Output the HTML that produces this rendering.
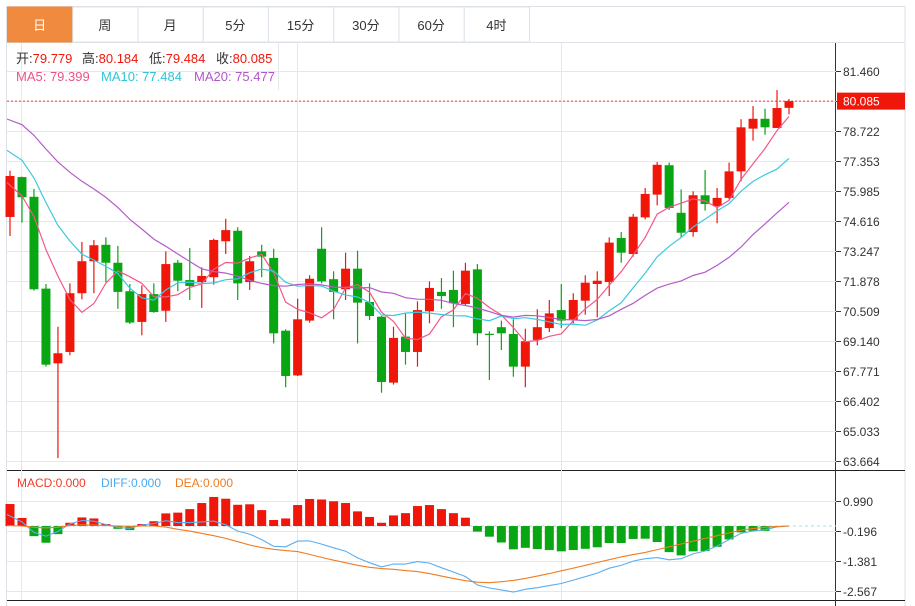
<!DOCTYPE html>
<html><head><meta charset="utf-8">
<style>
html,body{margin:0;padding:0;background:#fff;width:915px;height:606px;overflow:hidden;font-family:"Liberation Sans","Noto Sans CJK SC",sans-serif;}
svg{position:absolute;left:0;top:0;}
</style></head>
<body>
<svg id="chart" width="915" height="606" xmlns="http://www.w3.org/2000/svg" font-family="Liberation Sans, Noto Sans CJK SC, sans-serif"></svg>
<script>
const tabs = ["日","周","月","5分","15分","30分","60分","4时"];
const opens  = [74.80,76.62,75.72,71.53,68.12,68.64,71.32,72.78,73.53,72.71,71.41,70.01,71.28,70.52,72.71,71.92,71.83,72.05,73.69,74.17,71.83,73.23,72.93,69.61,67.57,70.07,73.35,71.96,71.50,72.44,70.92,70.25,67.24,69.34,68.64,70.50,71.38,71.47,70.83,72.41,69.47,69.77,69.46,67.97,69.19,69.73,70.55,70.10,70.98,71.74,71.83,73.84,73.11,74.78,75.82,77.16,74.99,74.11,75.79,75.30,75.67,76.88,78.83,79.28,78.86,79.779];
const highs  = [76.91,76.64,76.08,71.74,69.79,71.77,73.66,73.75,73.87,73.48,71.74,71.68,71.77,73.23,72.84,73.38,72.50,73.81,74.72,74.33,73.02,73.53,73.35,69.67,71.07,72.14,74.33,72.32,73.17,73.26,71.77,70.28,69.79,70.43,70.95,71.86,72.01,72.35,72.71,72.65,69.58,70.07,70.13,69.70,70.59,71.01,71.74,71.32,72.14,72.32,73.87,74.11,74.94,76.12,77.31,77.28,76.06,75.97,76.94,76.12,77.28,79.26,79.86,79.74,80.59,80.184];
const lows   = [73.93,74.54,71.44,67.97,63.80,68.49,71.04,71.32,71.83,70.61,69.92,69.40,70.43,70.01,71.41,71.01,70.65,71.71,73.11,71.01,71.47,72.05,69.03,67.03,67.54,69.98,71.77,70.13,71.01,69.03,70.10,66.78,67.15,68.06,67.97,69.95,70.61,69.77,70.77,68.94,67.36,68.73,67.51,67.03,68.94,69.55,69.73,69.95,70.34,70.22,71.19,72.71,72.99,74.69,75.33,75.12,73.87,73.90,75.09,74.51,75.61,76.43,78.28,78.55,78.86,79.484];
const closes = [76.67,75.70,71.50,68.06,68.58,71.32,72.78,73.51,72.71,71.38,69.98,71.28,70.46,72.65,71.89,71.65,72.11,73.75,74.20,71.77,72.78,72.99,69.49,67.54,70.13,71.98,71.86,71.38,72.44,70.89,70.28,67.27,69.28,68.64,70.55,71.56,71.19,70.86,72.35,69.49,69.45,69.49,67.97,69.13,69.77,70.40,70.07,71.01,71.80,71.89,73.63,73.17,74.81,75.85,77.18,75.21,74.08,75.79,75.39,75.67,76.88,78.89,79.28,78.89,79.77,80.085];
const priorCloses = [80.9,81.2,80.6,80.3,80.8,81.0,80.5,80.4,80.7,80.6,80.2,79.6,79.3,78.9,78.5,78.8,76.2,75.6,74.6];
const macdHist = [0.87,0.32,-0.40,-0.66,-0.32,0.13,0.34,0.30,0.08,-0.11,-0.16,0.08,0.19,0.50,0.53,0.67,0.91,1.15,1.08,0.84,0.86,0.63,0.24,0.30,0.83,1.07,1.05,0.98,0.91,0.58,0.36,0.13,0.42,0.51,0.79,0.83,0.67,0.51,0.33,-0.22,-0.42,-0.65,-0.92,-0.86,-0.91,-0.95,-1.00,-0.95,-0.90,-0.84,-0.67,-0.67,-0.51,-0.50,-0.63,-1.03,-1.16,-1.00,-0.99,-0.82,-0.53,-0.25,-0.19,-0.19,-0.02,0.0];
const deaVals = [0.02,0.0,-0.05,-0.07,-0.05,0.02,0.05,0.04,0.02,0.0,-0.01,0.0,0.0,-0.04,-0.13,-0.2,-0.29,-0.38,-0.49,-0.62,-0.75,-0.85,-0.92,-0.97,-1.01,-1.12,-1.24,-1.35,-1.45,-1.55,-1.63,-1.68,-1.71,-1.76,-1.80,-1.88,-1.98,-2.07,-2.16,-2.22,-2.24,-2.2,-2.15,-2.07,-1.98,-1.88,-1.77,-1.66,-1.55,-1.44,-1.33,-1.22,-1.13,-1.04,-0.93,-0.82,-0.71,-0.60,-0.49,-0.38,-0.27,-0.16,-0.10,-0.05,-0.02,0.0];
const priceTicks = ["81.460","80.091","78.722","77.353","75.985","74.616","73.247","71.878","70.509","69.140","67.771","66.402","65.033","63.664"];
const macdTicks = ["0.990","-0.196","-1.381","-2.567"];

const NS="http://www.w3.org/2000/svg";
const svg=document.getElementById('chart');
function mk(tag,attrs,parent){const e=document.createElementNS(NS,tag);for(const k in attrs)e.setAttribute(k,attrs[k]);(parent||svg).appendChild(e);return e;}
const PMAX=81.46,PMIN=63.664,PT=71,PB=461;
function py(p){return PT+(PMAX-p)*(PB-PT)/(PMAX-PMIN);}
const MMAX=0.990,MMIN=-2.567,MT=501,MB=591;
function my(v){return MT+(MMAX-v)*(MB-MT)/(MMAX-MMIN);}
const N=closes.length;
function cx(i){return 10+i*(789-10)/(N-1);}
const RED="#f0160a",GREEN="#07a612",GRID="#e3e8ee";

// frame
let g=mk('g',{});

mk('rect',{x:6.5,y:6.5,width:898.5,height:600,fill:'none',stroke:'#dde2e8'},g);
mk('line',{x1:7,y1:42.5,x2:905,y2:42.5,stroke:'#dde2e8'},g);
// grid
const grid=mk('g',{});

[21,297,561].forEach(x=>{mk('line',{x1:x+0.5,y1:43,x2:x+0.5,y2:600,stroke:GRID},grid);});
mk('line',{x1:278.5,y1:43,x2:278.5,y2:90,stroke:GRID},grid);
priceTicks.forEach(t=>{const y=Math.round(py(+t))+0.5;mk('line',{x1:7,y1:y,x2:836,y2:y,stroke:GRID},grid);});
macdTicks.forEach(t=>{const y=Math.round(my(+t))+0.5;mk('line',{x1:7,y1:y,x2:836,y2:y,stroke:GRID},grid);});
// panel separators and axis
mk('line',{x1:7,y1:470.5,x2:905,y2:470.5,stroke:'#222'},g);
mk('line',{x1:7,y1:600.5,x2:905,y2:600.5,stroke:'#222'},g);
mk('line',{x1:835.5,y1:43,x2:835.5,y2:606,stroke:'#333'},g);

// tabs
const tw=(529-7)/8;
tabs.forEach((t,i)=>{
  const tg=mk('g',{});
  
  
  const x=7+i*tw;
  mk('rect',{x:x+0.5,y:7,width:tw,height:35,fill:i===0?'#f08a3e':'#fff',stroke:i===0?'#f08a3e':'#dde2e8'},tg);
  const tx=mk('text',{x:x+tw/2,y:30,'text-anchor':'middle','font-size':13,fill:i===0?'#fff':'#333'},tg);tx.textContent=t;
});

// info texts
function txt(x,y,s,col,size,name,anchor){const e=mk('text',{x:x,y:y,fill:col,'font-size':size||12,'text-anchor':anchor||'start'});e.textContent=s;return e;}
const info=[["开:","79.779",16],["高:","80.184",82],["低:","79.484",149],["收:","80.085",216]];
info.forEach(a=>{const e=mk('text',{x:a[2],y:63,'font-size':13});
 const s1=mk('tspan',{fill:'#333'},e);s1.textContent=a[0];const s2=mk('tspan',{fill:RED},e);s2.textContent=a[1];});
txt(16,81,"MA5: 79.399","#f0508a",13,"ma5-label");
txt(101,81,"MA10: 77.484","#2ec4da",13,"ma10-label");
txt(194,81,"MA20: 75.477","#b455c8",13,"ma20-label");
txt(17,487,"MACD:0.000","#f03c28",12,"macd-label");
txt(101,487,"DIFF:0.000","#4aa8f0",12,"diff-label");
txt(175,487,"DEA:0.000","#f07c22",12,"dea-label");

// axis labels
priceTicks.forEach(t=>{const y=Math.round(py(+t))+0.5;mk('line',{x1:836,y1:y,x2:841,y2:y,stroke:'#333'});txt(843,y+4.5,t,'#333',12,'price-tick');});
macdTicks.forEach(t=>{const y=Math.round(my(+t))+0.5;mk('line',{x1:836,y1:y,x2:841,y2:y,stroke:'#333'});txt(843,y+4.5,t,'#333',12,'macd-tick');});

// current price
const last=closes[N-1];const ly=py(last);
const cl=mk('line',{x1:7,y1:ly,x2:836,y2:ly,stroke:'#f04040','stroke-dasharray':'2,2'});

const cb=mk('rect',{x:837,y:ly-8.5,width:68,height:17,fill:RED});

txt(843,ly+4.5,last.toFixed(3),'#fff',12,'current-price-label');

// candles
for(let i=0;i<N;i++){
  const up=closes[i]>=opens[i];const col=up?RED:GREEN;const x=cx(i);
  const c=mk('g',{});
  
  
  mk('line',{x1:x,y1:py(highs[i]),x2:x,y2:py(lows[i]),stroke:col,'stroke-width':1.2},c);
  const t=py(Math.max(opens[i],closes[i])),b=py(Math.min(opens[i],closes[i]));
  mk('rect',{x:x-4.5,y:t,width:9,height:Math.max(1.2,b-t),fill:col},c);
}
// MAs
const all=priorCloses.concat(closes);const P=priorCloses.length;
function ma(n){const out=[];for(let i=0;i<N;i++){let s=0;for(let k=0;k<n;k++)s+=all[P+i-k];out.push(s/n);}return out;}
[[5,"#f3578a","ma5-line"],[10,"#3cc9dd","ma10-line"],[20,"#b45cc9","ma20-line"]].forEach(m=>{
  const v=ma(m[0]);const pts=v.map((p,i)=>(i===0?7:cx(i)).toFixed(1)+","+py(p).toFixed(1)).join(" ");
  const l=mk('polyline',{points:pts,fill:'none',stroke:m[1],'stroke-width':1.2});
  
});

// MACD
const z=my(0);
const zl=mk('line',{x1:7,y1:z,x2:836,y2:z,stroke:'#a8d8ee','stroke-dasharray':'3,3'});

for(let i=0;i<N;i++){
  const v=macdHist[i];if(Math.abs(v)<0.005)continue;const y=my(v);
  const r=mk('rect',{x:cx(i)-4.5,y:Math.min(y,z),width:9,height:Math.abs(y-z),fill:v>0?RED:GREEN});
  
  
}
const diffVals=deaVals.map((d,i)=>d+macdHist[i]/2);
[[diffVals,"#5aaef0","diff-line"],[deaVals,"#f07c22","dea-line"]].forEach(s=>{
  const pts=s[0].map((v,i)=>(i===0?7:cx(i)).toFixed(1)+","+my(v).toFixed(1)).join(" ");
  const l=mk('polyline',{points:pts,fill:'none',stroke:s[1],'stroke-width':1.1});
  
});
</script>
</body></html>
